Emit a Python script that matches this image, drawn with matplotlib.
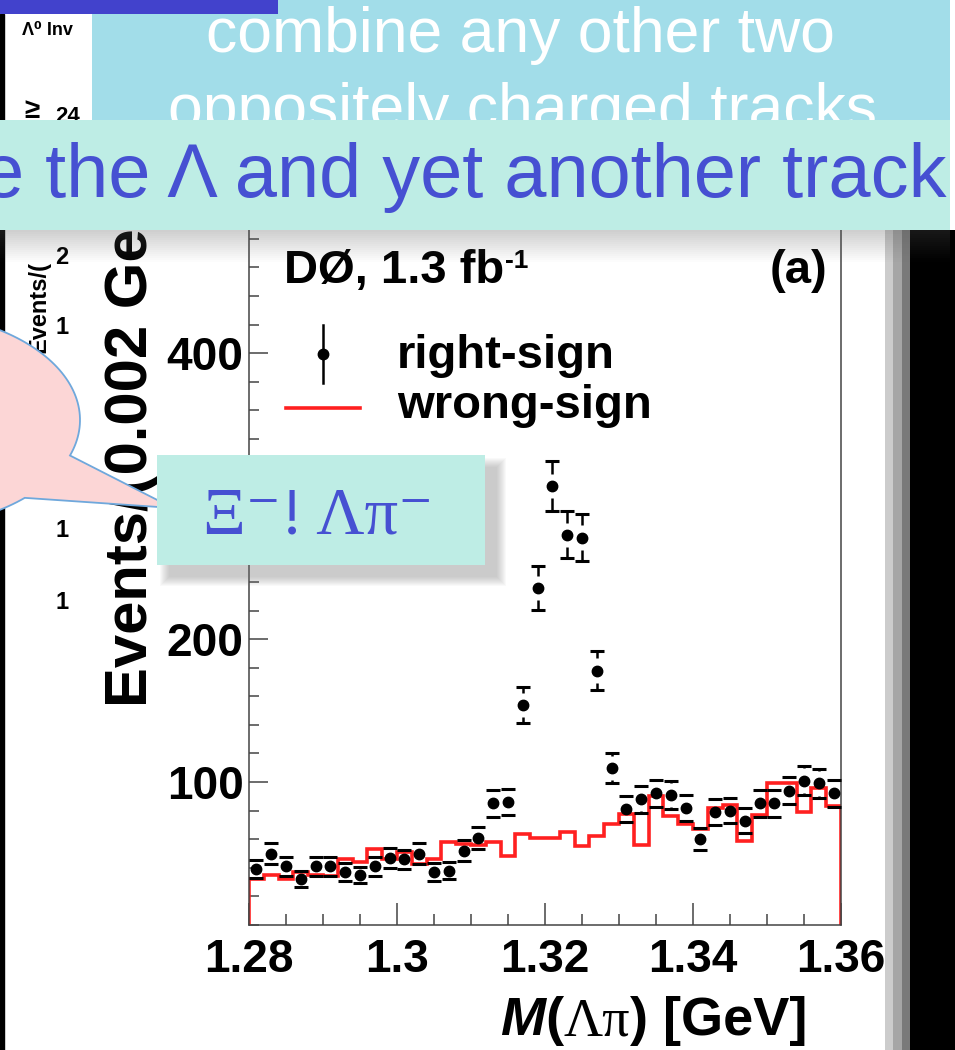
import numpy as np
import matplotlib.pyplot as plt
from matplotlib.patches import Rectangle, Polygon
from matplotlib.ticker import MultipleLocator, FixedLocator, FixedFormatter

# Lambda-pi invariant mass, 0.002 GeV bins from 1.28 to 1.36 GeV
bin_edges = np.linspace(1.28, 1.36, 41)
right_sign = [39, 50, 41, 32, 41, 41, 37, 35, 41, 47,
              46, 50, 37, 38, 52, 61, 85, 86, 154, 236,
              307, 273, 271, 178, 110, 81, 88, 92, 91, 82,
              60, 79, 80, 73, 85, 85, 94, 101, 99, 92]
wrong_sign = [32, 35, 32, 37, 35, 34, 46, 44, 53, 46,
              51, 43, 46, 58, 57, 56, 58, 48, 64, 61,
              61, 65, 55, 62, 71, 78, 56, 90, 76, 71,
              67, 82, 84, 59, 77, 99, 99, 79, 96, 83]
x_ticks = [1.28, 1.30, 1.32, 1.34, 1.36]
x_tick_labels = ['1.28', '1.3', '1.32', '1.34', '1.36']
y_ticks = [100, 200, 300, 400]

W, H = 955, 1050
BLUE = '#4650d2'
CYAN = '#beede5'
SANS = ['Liberation Sans', 'DejaVu Sans']
SERIF = ['Liberation Serif', 'DejaVu Serif']

fig = plt.figure(figsize=(W / 100, H / 100), dpi=100)
fig.patch.set_facecolor('white')

# background layer in pixel coordinates (y down)
bg = fig.add_axes([0, 0, 1, 1], zorder=0)
bg.set_xlim(0, W)
bg.set_ylim(H, 0)
bg.axis('off')

# remnants of the slide figure underneath
bg.add_patch(Rectangle((0, 14), 4, H, color='black'))
bg.text(22, 35, '\u039b\u2070 Inv', fontsize=13, fontweight='bold', family=SANS, va='baseline')
bg.text(24, 118, '\u2265', fontsize=20, fontweight='bold', family=SANS, va='baseline')
bg.text(55, 122, '24', fontsize=16, fontweight='bold', family=SANS, va='baseline')
bg.text(45, 353, 'Events/(', fontsize=17, fontweight='bold', family=SANS,
        rotation=90, rotation_mode='anchor', ha='left', va='baseline')
for lab, yy in [('2', 264), ('1', 334), ('1', 537), ('1', 609)]:
    bg.text(62, yy, lab, fontsize=17, fontweight='bold', family=SANS, ha='center', va='baseline')

# ---- the histogram plot ----
ax = fig.add_axes([249 / W, 1 - 925 / H, 592 / W, (925 - 226) / H], zorder=1)
ax.set_facecolor('none')
ax.set_xlim(1.28, 1.36)
ax.set_ylim(0, 489)

centers = 0.5 * (bin_edges[:-1] + bin_edges[1:])
counts = np.array(right_sign, dtype=float)
errs = np.sqrt(counts)

ax.stairs(wrong_sign, bin_edges, color='#ff2020', lw=2.6, zorder=2)

# ROOT style error bars: caps at +-err, bar with a gap around the marker
gap = 8.5
ax.errorbar(centers, counts, yerr=errs, fmt='none', ecolor='black', elinewidth=0,
            capsize=5, capthick=2.2, zorder=3)
seg = errs > gap
ax.vlines(centers[seg], counts[seg] + gap, counts[seg] + errs[seg], color='black', lw=1.8, zorder=3)
ax.vlines(centers[seg], counts[seg] - errs[seg], counts[seg] - gap, color='black', lw=1.8, zorder=3)
ax.plot(centers, counts, 'o', color='black', ms=7.5, zorder=4)

ax.xaxis.set_major_locator(FixedLocator(x_ticks))
ax.xaxis.set_major_formatter(FixedFormatter(x_tick_labels))
ax.xaxis.set_minor_locator(MultipleLocator(0.005))
ax.yaxis.set_major_locator(FixedLocator(y_ticks))
ax.yaxis.set_minor_locator(MultipleLocator(20))
ax.tick_params(axis='both', which='both', direction='in', color='#444444', width=1.1)
ax.tick_params(axis='x', which='major', length=16, pad=9)
ax.tick_params(axis='x', which='minor', length=8)
ax.tick_params(axis='y', which='major', length=14, pad=4)
ax.tick_params(axis='y', which='minor', length=7)
for lab in ax.get_xticklabels() + ax.get_yticklabels():
    lab.set_fontsize(33)
    lab.set_fontweight('bold')
    lab.set_family(SANS)
for sp in ax.spines.values():
    sp.set_color('#444444')
    sp.set_linewidth(1.1)

# y axis title, drawn with the plot so the callouts cover it
ax.text(147, 707, 'Events/(0.002 GeV)', transform=bg.transData, fontsize=43,
        fontweight='bold', family=SANS, rotation=90, rotation_mode='anchor',
        ha='left', va='baseline')

renderer = fig.canvas.get_renderer()


def pieces(axis, x, y, parts, trans):
    for s, kw in parts:
        t = axis.text(x, y, s, transform=trans, ha='left', va='baseline', **kw)
        x += t.get_window_extent(renderer).width
    return x


bold = dict(fontsize=39, fontweight='bold', family=SANS)
pieces(ax, 500, 1035, [('M', dict(bold, style='italic')), ('(', bold),
                       ('\u039b\u03c0', dict(fontsize=39, family=SERIF)),
                       (')', bold), (' [GeV]', bold)], bg.transData)

lab = dict(fontsize=34, fontweight='bold', family=SANS)
x_end = pieces(ax, 284, 283, [('D\u00d8, 1.3 fb', lab)], bg.transData)
ax.text(x_end + 1, 268, '-1', transform=bg.transData, fontsize=19, fontweight='bold',
        family=SANS, va='baseline')
ax.text(827, 283, '(a)', transform=bg.transData, ha='right', va='baseline', **lab)

# legend
ax.plot([323, 323], [325, 383], color='black', lw=1.8, transform=bg.transData)
ax.plot([323], [354], 'o', color='black', ms=7.5, transform=bg.transData)
ax.text(397, 368, 'right-sign', transform=bg.transData, va='baseline', **lab)
ax.plot([286, 360], [408, 408], color='#ff2020', lw=2.6, transform=bg.transData)
ax.text(397, 418, 'wrong-sign', transform=bg.transData, va='baseline', **lab)

# ---- slide overlays ----
ov = fig.add_axes([0, 0, 1, 1], zorder=2)
ov.set_xlim(0, W)
ov.set_ylim(H, 0)
ov.axis('off')
ov.patch.set_alpha(0)

# speech bubble
cx, cy, a, b = -100, 420, 180, 108
t = np.linspace(0.805, 0.335 + 2 * np.pi, 200)
ell = np.column_stack([cx + a * np.cos(t), cy + b * np.sin(t)])
pts = np.vstack([[[173, 508]], ell, [[173, 508]]])
ov.add_patch(Polygon(pts, closed=True, facecolor='#fcd6d6', edgecolor='#6fa8dc', lw=1.3))

# Xi box with soft shadow
for k in range(10):
    ov.add_patch(Rectangle((157 + 12 - k, 455 + 12 - k), 328 + 2 * k, 110 + 2 * k,
                           color='#777777', alpha=0.045, lw=0))
ov.add_patch(Rectangle((157, 455), 328, 110, color=CYAN, lw=0))
ov.text(203, 533, '\u039e\u207b! \u039b\u03c0\u207b', fontsize=48, color=BLUE,
        family=SERIF, va='baseline')

# right edge of the slide
ov.add_patch(Rectangle((885, 230), 8, H, color='#cccccc', lw=0))
ov.add_patch(Rectangle((893, 230), 9, H, color='#a6a6a6', lw=0))
ov.add_patch(Rectangle((902, 230), 8, H, color='#7a7a7a', lw=0))
ov.add_patch(Rectangle((910, 230), 45, H, color='black', lw=0))

# shadow under the banner
for k in range(16):
    ov.add_patch(Rectangle((0, 230 + 2 * k), 950, 2, color='#555555',
                           alpha=0.28 * (1 - k / 16), lw=0))

# top boxes
ov.add_patch(Rectangle((92, 0), 858, 120, color='#a2dde9', lw=0))
ov.text(520, 52, 'combine any other two', fontsize=45, color='white', family=SANS,
        ha='center', va='baseline')
ov.text(522, 128, 'oppositely charged tracks', fontsize=45, color='white', family=SANS,
        ha='center', va='baseline')
ov.add_patch(Rectangle((0, 120), 950, 110, color=CYAN, lw=0, zorder=3))
ov.text(946, 197, 'e the \u039b and yet another track', fontsize=54.5, color=BLUE,
        family=SANS, ha='right', va='baseline', zorder=4)
ov.add_patch(Rectangle((0, 0), 278, 14, color='#4242cc', lw=0, zorder=5))

fig.savefig('out.png', dpi=100)
